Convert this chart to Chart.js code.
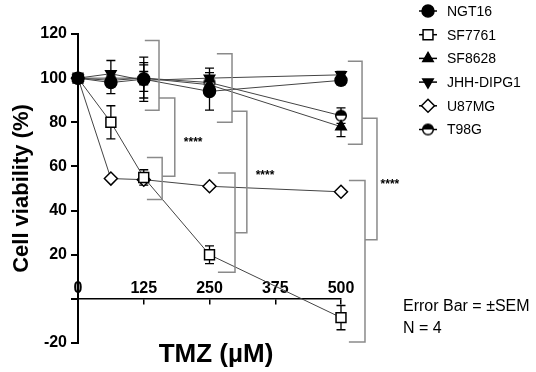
<!DOCTYPE html>
<html><head><meta charset="utf-8">
<script src="https://cdn.jsdelivr.net/npm/chart.js@4.4.1/dist/chart.umd.min.js"></script>
<style>html,body{margin:0;padding:0;background:#fff}#wrap{width:536px;height:372px;position:relative}</style>
</head><body><div id="wrap"><canvas id="c" width="536" height="372"></canvas></div>
<script>
const doses = [0, 62.5, 125, 250, 500];
const xTicks = [0, 125, 250, 375, 500];
const yTicks = [-20, 0, 20, 40, 60, 80, 100, 120];
const seriesNames = ['NGT16', 'SF7761', 'SF8628', 'JHH-DIPG1', 'U87MG', 'T98G'];
const ngt16 = [100, 98, 99.5, 94, 99];
const ngt16Err = [0, 5, 10, 8.5, 2];
const sf7761 = [100, 80, 55, 20, -8.5];
const sf7761Err = [0, 7.5, 3.5, 4, 5.5];
const sf8628 = [100, 100, 100, 97, 78];
const sf8628Err = [0, 3, 6, 3, 4.5];
const jhh = [100, 102, 99, 100, 101.5];
const jhhErr = [0, 6, 8, 4.5, 1.5];
const u87 = [100, 54.5, 54, 51, 48.5];
const u87Err = [0, 0, 0, 0, 0];
const t98 = [100, 99, 100, 98, 83];
const t98Err = [0, 2, 3, 2, 3.5];
// significance brackets (data units): upper & lower "]" brackets joined by a spine
const bracketGroups = [
  {upper: {x0: 127, x: 154, top: 117, bottom: 85.5, stub: 91}, lower: {x0: 131, x: 160, top: 64, bottom: 45, stub: 55.5}, join: 184, stars: {x: 219, y: 72.5}},
  {upper: {x0: 264, x: 292.8, top: 111, bottom: 80, stub: 85}, lower: {x0: 266, x: 298.5, top: 57, bottom: 12, stub: 30}, join: 321, stars: {x: 355.5, y: 57.3}},
  {upper: {x0: 513, x: 540, top: 107.7, bottom: 70, stub: 81.8}, lower: {x0: 515, x: 545.6, top: 53.6, bottom: -19.5, stub: 26.8}, join: 568.4, stars: {x: 593, y: 53.6}}
];
const sigLabel = '****';
const noteLines = ['Error Bar = \u00B1SEM', 'N = 4'];
const xTitle = 'TMZ (\u00B5M)';
const yTitle = 'Cell viability (%)';

const FONT = '"Liberation Sans", Arial, sans-serif';

function halfCircle() {
  const c = document.createElement('canvas');
  c.width = 14; c.height = 14;
  const g = c.getContext('2d');
  g.beginPath(); g.arc(7, 7, 5.3, 0, 2 * Math.PI); g.fillStyle = '#fff'; g.fill();
  g.beginPath(); g.arc(7, 7, 5.3, Math.PI, 2 * Math.PI); g.closePath(); g.fillStyle = '#000'; g.fill();
  g.beginPath(); g.arc(7, 7, 5.3, 0, 2 * Math.PI); g.lineWidth = 1.5; g.strokeStyle = '#000'; g.stroke();
  return c;
}
const t98Marker = halfCircle();

const styles = [
  {pointStyle: 'circle', radius: 6, fill: '#000', rotation: 0},
  {pointStyle: 'rect', radius: 7, fill: '#fff', rotation: 0},
  {pointStyle: 'triangle', radius: 6, fill: '#000', rotation: 0},
  {pointStyle: 'triangle', radius: 6, fill: '#000', rotation: 180},
  {pointStyle: 'rectRot', radius: 6.5, fill: '#fff', rotation: 0},
  {pointStyle: t98Marker, radius: 6, fill: '#fff', rotation: 0}
];
const values = [ngt16, sf7761, sf8628, jhh, u87, t98];
const errs = [ngt16Err, sf7761Err, sf8628Err, jhhErr, u87Err, t98Err];

const datasets = values.map((vals, i) => ({
  label: seriesNames[i],
  data: vals.map((v, j) => ({x: doses[j], y: v})),
  err: errs[i],
  showLine: true,
  borderColor: '#444',
  borderWidth: 1,
  pointStyle: styles[i].pointStyle,
  pointRadius: styles[i].radius,
  pointRotation: styles[i].rotation,
  pointBackgroundColor: styles[i].fill,
  pointBorderColor: '#000',
  pointBorderWidth: 1.5,
  clip: false,
  order: i
}));

const errPlugin = {
  id: 'errbars',
  beforeDatasetsDraw(chart) {
    const ctx = chart.ctx, xs = chart.scales.x, ys = chart.scales.y;
    ctx.save();
    ctx.strokeStyle = '#000'; ctx.lineWidth = 1.3;
    chart.data.datasets.forEach(ds => {
      ds.data.forEach((p, j) => {
        const e = ds.err[j];
        if (!e) return;
        const x = xs.getPixelForValue(p.x);
        const y1 = ys.getPixelForValue(p.y + e), y2 = ys.getPixelForValue(p.y - e);
        ctx.beginPath();
        ctx.moveTo(x, y1); ctx.lineTo(x, y2);
        ctx.moveTo(x - 4.5, y1); ctx.lineTo(x + 4.5, y1);
        ctx.moveTo(x - 4.5, y2); ctx.lineTo(x + 4.5, y2);
        ctx.stroke();
      });
    });
    ctx.restore();
  }
};

const annoPlugin = {
  id: 'anno',
  afterDraw(chart) {
    const ctx = chart.ctx, xs = chart.scales.x, ys = chart.scales.y;
    const X = v => xs.getPixelForValue(v), Y = v => ys.getPixelForValue(v);
    ctx.save();
    // brackets
    ctx.strokeStyle = '#8a8a8a'; ctx.lineWidth = 1.5;
    bracketGroups.forEach(g => {
      [g.upper, g.lower].forEach(b => {
        ctx.beginPath();
        ctx.moveTo(X(b.x0), Y(b.top)); ctx.lineTo(X(b.x), Y(b.top));
        ctx.lineTo(X(b.x), Y(b.bottom)); ctx.lineTo(X(b.x0), Y(b.bottom));
        ctx.stroke();
      });
      ctx.beginPath();
      ctx.moveTo(X(g.upper.x), Y(g.upper.stub)); ctx.lineTo(X(g.join), Y(g.upper.stub));
      ctx.lineTo(X(g.join), Y(g.lower.stub)); ctx.lineTo(X(g.lower.x), Y(g.lower.stub));
      ctx.stroke();
      ctx.fillStyle = '#000'; ctx.font = 'bold 12px ' + FONT;
      ctx.textAlign = 'center'; ctx.textBaseline = 'alphabetic';
      ctx.fillText(sigLabel, X(g.stars.x), Y(g.stars.y) + 7);
    });
    // note text
    ctx.fillStyle = '#000'; ctx.font = '16px ' + FONT;
    ctx.textAlign = 'left'; ctx.textBaseline = 'middle';
    ctx.fillText(noteLines[0], 403, 307);
    ctx.fillText(noteLines[1], 403, 329);
    // x title
    ctx.font = 'bold 26px ' + FONT; ctx.textAlign = 'center';
    ctx.fillText(xTitle, 216, 355);
    // legend
    const helpers = Chart.helpers;
    seriesNames.forEach((name, i) => {
      const y = 11 + i * 23.7;
      ctx.strokeStyle = '#000'; ctx.lineWidth = 1.5;
      ctx.beginPath(); ctx.moveTo(419, y); ctx.lineTo(437, y); ctx.stroke();
      ctx.fillStyle = styles[i].fill; ctx.strokeStyle = '#000'; ctx.lineWidth = 1.5;
      helpers.drawPoint(ctx, {pointStyle: styles[i].pointStyle, rotation: styles[i].rotation, radius: styles[i].radius, borderWidth: 1.5}, 428, y);
      ctx.fillStyle = '#000'; ctx.font = '14px ' + FONT;
      ctx.textAlign = 'left'; ctx.textBaseline = 'middle';
      ctx.fillText(name, 447, y + 1);
    });
    ctx.restore();
  }
};

new Chart(document.getElementById('c'), {
  type: 'scatter',
  data: {datasets},
  options: {
    responsive: false,
    animation: false,
    layout: {padding: {left: 0, top: 34, right: 195, bottom: 29}},
    plugins: {legend: {display: false}, tooltip: {enabled: false}},
    elements: {line: {tension: 0}},
    scales: {
      x: {
        type: 'linear', min: 0, max: 500,
        position: {y: 0},
        afterFit: s => { s.height = 0; },
        afterBuildTicks: s => { s.ticks = xTicks.map(v => ({value: v})); },
        ticks: {color: '#000', font: {family: FONT, size: 16, weight: 'bold'}, padding: -25, maxRotation: 0, autoSkip: false},
        grid: {drawOnChartArea: false, drawTicks: true, tickLength: 5, color: '#000', lineWidth: 1.5},
        border: {color: '#000', width: 1.5}
      },
      y: {
        type: 'linear', min: -20, max: 120,
        afterFit: s => { s.width = 78; },
        afterBuildTicks: s => { s.ticks = yTicks.map(v => ({value: v})); },
        ticks: {color: '#000', font: {family: FONT, size: 16, weight: 'bold'}, padding: 4, callback: v => v === 0 ? '' : v},
        grid: {drawOnChartArea: false, drawTicks: true, tickLength: 7, color: '#000', lineWidth: 2},
        border: {color: '#000', width: 2},
        title: {display: true, text: yTitle, color: '#000', font: {family: FONT, size: 22, weight: 'bold'}, padding: {top: 9, bottom: 0}}
      }
    }
  },
  plugins: [errPlugin, annoPlugin]
});
</script></body></html>
